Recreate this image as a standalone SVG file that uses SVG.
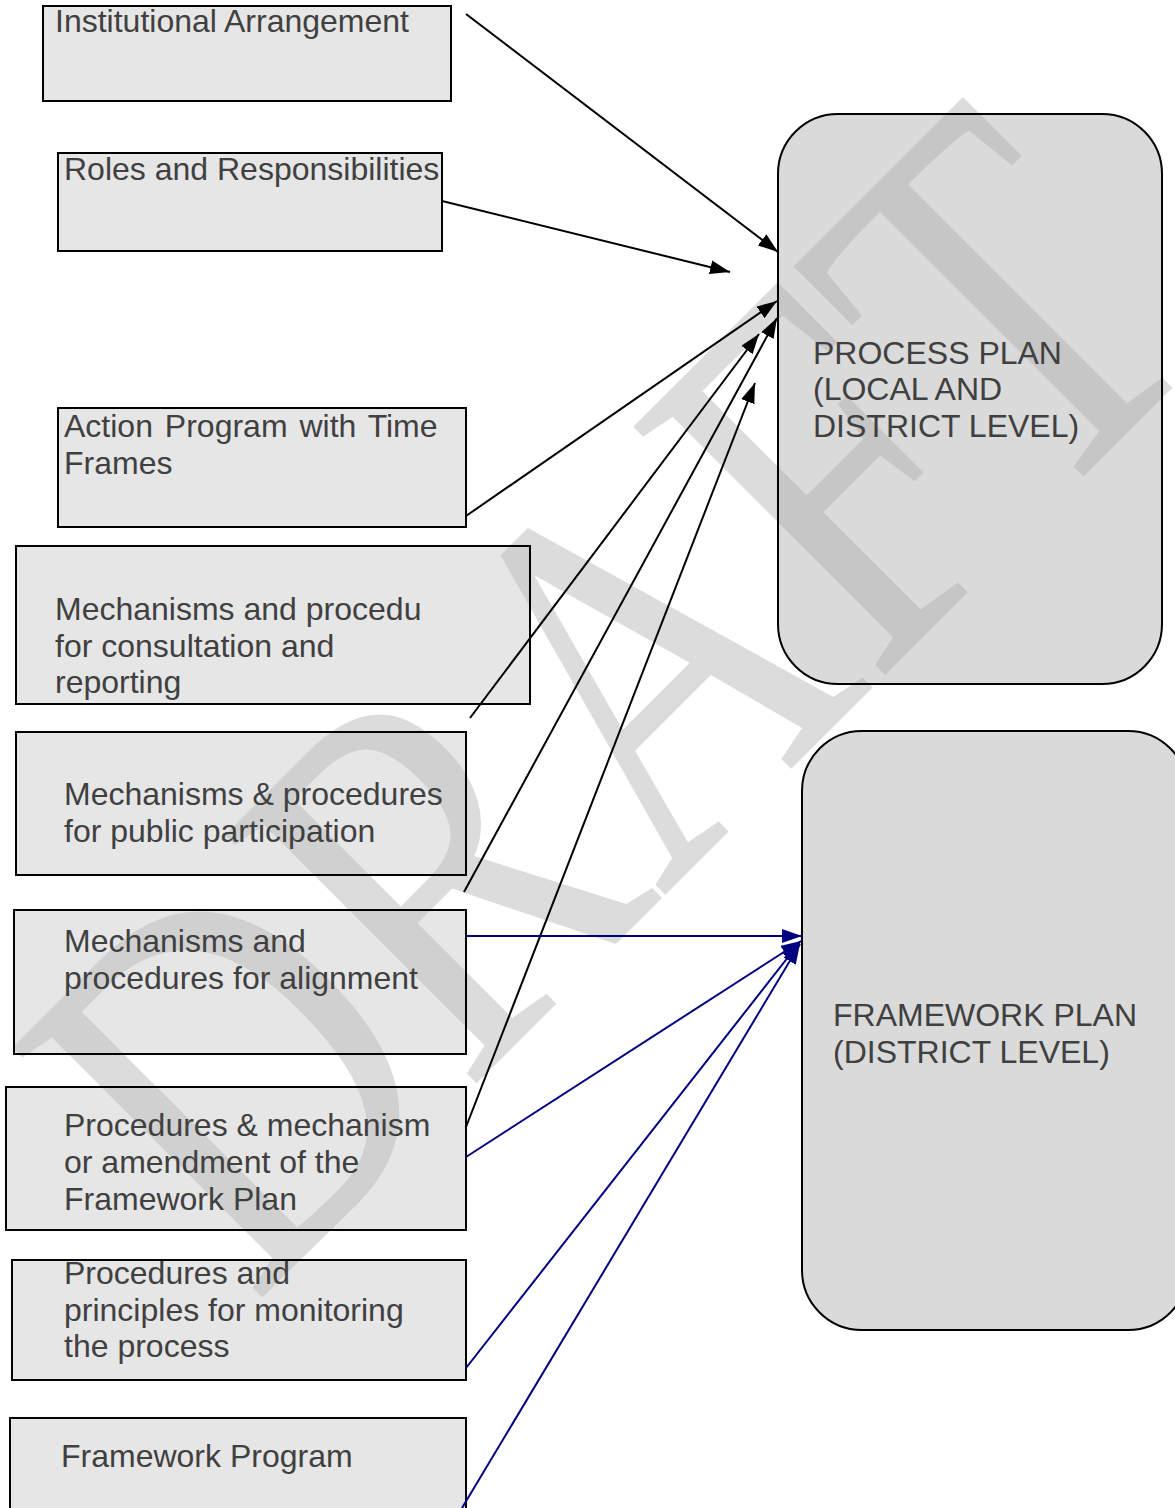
<svg xmlns="http://www.w3.org/2000/svg" width="1175" height="1508" viewBox="0 0 1175 1508">
  <style>
    .wm { font-family: "Liberation Serif", "Times New Roman", serif; font-size: 540px; fill: #dcdcdc; }
    .box { fill: rgb(188,188,188); fill-opacity: 0.371; stroke: #000; stroke-width: 2; }
    .plan { fill: rgb(169,169,169); fill-opacity: 0.43; stroke: #000; stroke-width: 2; }
    .lbl { font-family: "Liberation Sans", Arial, sans-serif; font-size: 32px; fill: #404040; }
    .blk { fill: none; stroke: #000; stroke-width: 2; marker-end: url(#ah); }
    .blu { fill: none; stroke: #000080; stroke-width: 2; marker-end: url(#ahb); }
  </style>
  <defs>
    <marker id="ah" markerUnits="userSpaceOnUse" markerWidth="20" markerHeight="14" refX="20" refY="7" orient="auto">
      <path d="M0,0 L20,7 L0,14 Z" fill="#000"/>
    </marker>
    <marker id="ahb" markerUnits="userSpaceOnUse" markerWidth="20" markerHeight="14" refX="20" refY="7" orient="auto">
      <path d="M0,0 L20,7 L0,14 Z" fill="#000080"/>
    </marker>
  </defs>

  <rect width="1175" height="1508" fill="#fff"/>

  <!-- background watermark -->
  <text class="wm" transform="translate(254,1306) rotate(-45) scale(0.77,1)">DRAFT</text>

  <g id="n-institutional">
    <rect class="box" x="43" y="6" width="408" height="95"/>
    <text class="lbl" x="55" y="32">Institutional Arrangement</text>
  </g>
  <g id="n-roles">
    <rect class="box" x="58" y="153" width="384" height="98"/>
    <text class="lbl" x="64" y="180">Roles and Responsibilities</text>
  </g>
  <g id="n-action">
    <rect class="box" x="58" y="408" width="408" height="119"/>
    <text class="lbl" x="64" y="437" word-spacing="3">Action Program with Time</text>
    <text class="lbl" x="64" y="474">Frames</text>
  </g>
  <g id="n-consultation">
    <rect class="box" x="16" y="546" width="514" height="158"/>
    <text class="lbl" x="55" y="620">Mechanisms and procedu</text>
    <text class="lbl" x="55" y="657">for consultation and</text>
    <text class="lbl" x="55" y="693">reporting</text>
  </g>
  <g id="n-participation">
    <rect class="box" x="16" y="732" width="450" height="143"/>
    <text class="lbl" x="64" y="805">Mechanisms &amp; procedures</text>
    <text class="lbl" x="64" y="842">for public participation</text>
  </g>
  <g id="n-alignment">
    <rect class="box" x="14" y="910" width="452" height="144"/>
    <text class="lbl" x="64" y="952">Mechanisms and</text>
    <text class="lbl" x="64" y="989">procedures for alignment</text>
  </g>
  <g id="n-amendment">
    <rect class="box" x="6" y="1087" width="460" height="143"/>
    <text class="lbl" x="64" y="1136">Procedures &amp; mechanism</text>
    <text class="lbl" x="64" y="1173">or amendment of the</text>
    <text class="lbl" x="64" y="1210">Framework Plan</text>
  </g>
  <g id="n-monitoring">
    <rect class="box" x="12" y="1260" width="454" height="120"/>
    <text class="lbl" x="64" y="1284">Procedures and</text>
    <text class="lbl" x="64" y="1321">principles for monitoring</text>
    <text class="lbl" x="64" y="1357">the process</text>
  </g>
  <g id="n-framework-program">
    <rect class="box" x="10" y="1418" width="456" height="110"/>
    <text class="lbl" x="61" y="1467">Framework Program</text>
  </g>

  <g id="n-process-plan">
    <rect class="plan" x="778" y="114" width="384" height="570" rx="60" ry="60"/>
    <text class="lbl" x="813" y="364">PROCESS PLAN</text>
    <text class="lbl" x="813" y="400">(LOCAL AND</text>
    <text class="lbl" x="813" y="437">DISTRICT LEVEL)</text>
  </g>
  <g id="n-framework-plan">
    <rect class="plan" x="802" y="731" width="386" height="599" rx="60" ry="60"/>
    <text class="lbl" x="833" y="1026">FRAMEWORK PLAN</text>
    <text class="lbl" x="833" y="1063">(DISTRICT LEVEL)</text>
  </g>

  <g id="connectors">
    <line class="blk" x1="466" y1="14" x2="778" y2="252"/>
    <line class="blk" x1="442" y1="201" x2="730" y2="272"/>
    <line class="blk" x1="466" y1="516" x2="777" y2="301"/>
    <line class="blk" x1="470" y1="718" x2="759" y2="334"/>
    <line class="blk" x1="464" y1="892" x2="777" y2="318"/>
    <line class="blk" x1="466" y1="1127" x2="755" y2="383"/>
    <line class="blu" x1="466" y1="936" x2="802" y2="936"/>
    <line class="blu" x1="466" y1="1157" x2="801" y2="941"/>
    <line class="blu" x1="466" y1="1368" x2="800" y2="942"/>
    <line class="blu" x1="462" y1="1508" x2="800" y2="944"/>
  </g>
</svg>
